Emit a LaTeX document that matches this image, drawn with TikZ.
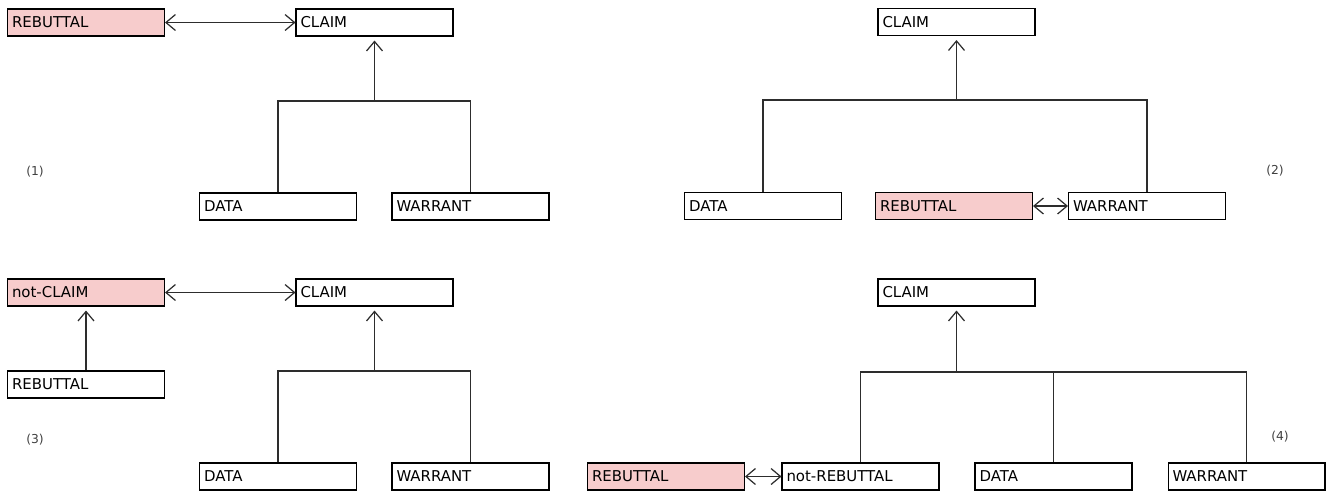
\documentclass[tikz,border=0pt]{standalone}
\usepackage{fontspec}
\setmainfont{DejaVu Sans}
\usetikzlibrary{arrows.meta}

\definecolor{rebpink}{RGB}{247,204,204}
\definecolor{linegray}{RGB}{45,45,45}

\begin{document}
\begin{tikzpicture}[x=0.02cm, y=-0.02cm]
    % Basic styles
    \tikzset{
        box/.style={
            rectangle,
            draw=black,
            line width=0.6pt,
            fill=white,
            minimum width=3.14cm,
            minimum height=0.54cm,
            text width=2.96cm,
            inner xsep=0.09cm,
            align=left,
            font=\fontsize{8.5}{10}\selectfont
        },
        hot/.style={box, fill=rebpink},
        link/.style={draw=linegray, line width=0.7pt},
        tip/.style={link, -{Straight Barb[length=1.9mm, width=3.2mm]}, shorten >=4*0.02cm},
        both/.style={link, {Straight Barb[length=1.9mm, width=3.2mm]}-{Straight Barb[length=1.9mm, width=3.2mm]}},
        tag/.style={font=\fontsize{7}{8}\selectfont, text=black!75}
    }
    \useasboundingbox (0,0) rectangle (1329,491);

    % (1) rebuttal against the claim
    \node[hot] (reb1) at (86,22.5) {REBUTTAL};
    \node[box] (claim1) at (374.5,22.5) {CLAIM};
    \node[box] (data1) at (278,206.5) {DATA};
    \node[box] (warr1) at (470.5,206.5) {WARRANT};
    \coordinate (bar1) at (374.5,101);
    \draw[both] (reb1) -- (claim1);
    \draw[link] (data1.north) |- (bar1) -| (warr1.north);
    \draw[tip] (bar1) -- (claim1.south);
    \node[tag] (n1) at (35,172) {(1)};

    % (2) rebuttal against the warrant
    \node[box] (claim2) at (956.5,22) {CLAIM};
    \node[box] (data2) at (763,206) {DATA};
    \node[hot] (reb2) at (954,206) {REBUTTAL};
    \node[box] (warr2) at (1147,206) {WARRANT};
    \coordinate (bar2) at (956.5,100);
    \draw[both] (reb2) -- (warr2);
    \draw[link] (data2.north) |- (bar2) -| (warr2.north);
    \draw[tip] (bar2) -- (claim2.south);
    \node[tag] (n2) at (1275,171) {(2)};

    % (3) rebuttal supporting the opposite claim
    \node[hot] (nclaim3) at (86,292.5) {not-CLAIM};
    \node[box] (claim3) at (374.5,292.5) {CLAIM};
    \node[box] (reb3) at (86,384.5) {REBUTTAL};
    \node[box] (data3) at (278,476.5) {DATA};
    \node[box] (warr3) at (470.5,476.5) {WARRANT};
    \coordinate (bar3) at (374.5,371);
    \draw[both] (nclaim3) -- (claim3);
    \draw[tip] (reb3) -- (nclaim3.south);
    \draw[link] (data3.north) |- (bar3) -| (warr3.north);
    \draw[tip] (bar3) -- (claim3.south);
    \node[tag] (n3) at (35,440) {(3)};

    % (4) rebuttal against a premise of the claim
    \node[box] (claim4) at (956.5,292.5) {CLAIM};
    \node[hot] (reb4) at (666,476.5) {REBUTTAL};
    \node[box] (nreb4) at (860.5,476.5) {not-REBUTTAL};
    \node[box] (data4) at (1053.5,476.5) {DATA};
    \node[box] (warr4) at (1246.5,476.5) {WARRANT};
    \coordinate (bar4) at (956.5,372);
    \draw[both] (reb4) -- (nreb4);
    \draw[link] (nreb4.north) |- (bar4) -| (warr4.north);
    \draw[link] (data4.north) -- (data4.north |- bar4);
    \draw[tip] (bar4) -- (claim4.south);
    \node[tag] (n4) at (1280,437) {(4)};
\end{tikzpicture}
\end{document}
